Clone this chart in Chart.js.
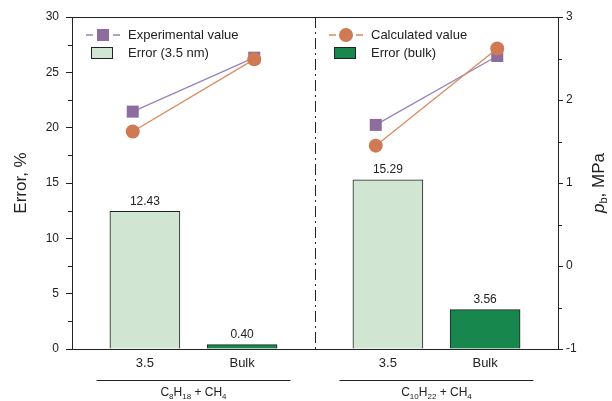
<!DOCTYPE html>
<html>
<head>
<meta charset="utf-8">
<script src="https://cdn.jsdelivr.net/npm/chart.js@4.4.1/dist/chart.umd.min.js"></script>
<style>
  html, body { margin: 0; padding: 0; background: #fff; }
  #wrap { width: 612px; height: 401px; }
</style>
</head>
<body>
<div id="wrap"><canvas id="c"></canvas></div>
<script>
// Pore size categories, two per hydrocarbon system
const categories = ['3.5', 'Bulk', '3.5', 'Bulk'];
const systems = ['C8H18 + CH4', 'C10H22 + CH4'];

// Relative error of the bubble-point prediction, %
const error35 = [12.43, 15.29];
const errorBulk = [0.40, 3.56];

// Bubble-point pressure p_b, MPa (3.5 nm, bulk, 3.5 nm, bulk)
const experimental = [1.86, 2.51, 1.70, 2.53];
const calculated = [1.62, 2.49, 1.45, 2.62];

// Axis tick labels
const errorTicks = [0, 5, 10, 15, 20, 25, 30];
const pressureTicks = [-1, 0, 1, 2, 3];

const FONT = "'Liberation Sans', Arial, Helvetica, sans-serif";
const INK = '#222';
const C_PURPLE = '#8c6d9e', C_PURPLE_LINE = '#9a82b8';
const C_ORANGE = '#cf7a52', C_ORANGE_LINE = '#d98a5e';
const C_LIGHT = '#d1e5d3', C_DARK = '#17874e';

Chart.defaults.font.family = FONT;
Chart.defaults.color = INK;

// Category i sits in group floor(i/2); each group spans 5 units on the x scale
const slot = i => Math.floor(i / 2) * 5 + 1.5 + (i % 2) * 2;
const markX = i => slot(i) + (i % 2 ? 0.25 : -0.25);

function drawFormula(ctx, text, cx, cy, size) {
  // digits following a letter are written as subscripts
  const parts = [];
  const re = /([A-Za-z])(\d+)/g;
  let last = 0, m;
  while ((m = re.exec(text))) {
    parts.push({ t: text.slice(last, m.index + 1), sub: false });
    parts.push({ t: m[2], sub: true });
    last = m.index + m[0].length;
  }
  if (last < text.length) parts.push({ t: text.slice(last), sub: false });
  const big = size + 'px ' + FONT, small = Math.round(size * 0.65) + 'px ' + FONT;
  let w = 0;
  parts.forEach(p => { ctx.font = p.sub ? small : big; p.w = ctx.measureText(p.t).width; w += p.w; });
  let x = cx - w / 2;
  ctx.textAlign = 'left';
  ctx.textBaseline = 'alphabetic';
  parts.forEach(p => {
    ctx.font = p.sub ? small : big;
    ctx.fillText(p.t, x, cy + (p.sub ? 3 : 0));
    x += p.w;
  });
}

const decor = {
  id: 'decor',
  beforeDatasetsDraw(chart) {
    const { ctx, chartArea: a, scales } = chart;
    const xd = scales.x.getPixelForValue(5);
    ctx.save();
    ctx.strokeStyle = INK;
    ctx.lineWidth = 1;
    ctx.setLineDash([11, 4, 2, 4]);
    ctx.beginPath();
    ctx.moveTo(Math.round(xd) + 0.5, a.top);
    ctx.lineTo(Math.round(xd) + 0.5, a.bottom);
    ctx.stroke();
    ctx.restore();
  },
  afterDraw(chart) {
    const { ctx, chartArea: a, scales } = chart;
    ctx.save();
    ctx.strokeStyle = INK;
    ctx.fillStyle = INK;
    ctx.lineWidth = 1;

    // top frame
    ctx.beginPath();
    ctx.moveTo(a.left, a.top + 0.5);
    ctx.lineTo(a.right, a.top + 0.5);
    ctx.stroke();

    // minor ticks
    for (let i = 0; i < errorTicks.length - 1; i++) {
      const y = Math.round(scales.y.getPixelForValue((errorTicks[i] + errorTicks[i + 1]) / 2)) + 0.5;
      ctx.beginPath(); ctx.moveTo(a.left - 4, y); ctx.lineTo(a.left, y); ctx.stroke();
    }
    for (let i = 0; i < pressureTicks.length - 1; i++) {
      const y = Math.round(scales.y1.getPixelForValue((pressureTicks[i] + pressureTicks[i + 1]) / 2)) + 0.5;
      ctx.beginPath(); ctx.moveTo(a.right, y); ctx.lineTo(a.right + 4, y); ctx.stroke();
    }

    // bar value labels
    ctx.font = '12px ' + FONT;
    ctx.textAlign = 'center';
    ctx.textBaseline = 'bottom';
    chart.data.datasets.forEach((ds, di) => {
      if (ds.type !== 'bar') return;
      chart.getDatasetMeta(di).data.forEach((el, j) => {
        ctx.fillText(ds.data[j].y.toFixed(2), el.x, el.y - 4);
      });
    });

    // legends
    const xd = scales.x.getPixelForValue(5);
    const r1 = a.top + 18, r2 = a.top + 36;
    const legend = (x0, line, mark, markColor, label1, fill, label2) => {
      ctx.strokeStyle = line;
      ctx.lineWidth = 1.3;
      ctx.beginPath();
      ctx.moveTo(x0, r1); ctx.lineTo(x0 + 7, r1);
      ctx.moveTo(x0 + 27, r1); ctx.lineTo(x0 + 34, r1);
      ctx.stroke();
      ctx.fillStyle = markColor;
      if (mark === 'rect') ctx.fillRect(x0 + 11, r1 - 6, 12, 12);
      else { ctx.beginPath(); ctx.arc(x0 + 17, r1, 7, 0, Math.PI * 2); ctx.fill(); }
      ctx.fillStyle = fill;
      ctx.fillRect(x0 + 5, r2 - 6, 22, 12);
      ctx.strokeStyle = INK;
      ctx.lineWidth = 1;
      ctx.strokeRect(x0 + 5.5, r2 - 5.5, 21, 11);
      ctx.fillStyle = INK;
      ctx.font = '13px ' + FONT;
      ctx.textAlign = 'left';
      ctx.textBaseline = 'middle';
      ctx.fillText(label1, x0 + 42, r1);
      ctx.fillText(label2, x0 + 42, r2);
    };
    legend(a.left + 14, C_PURPLE_LINE, 'rect', C_PURPLE, 'Experimental value', C_LIGHT, 'Error (3.5 nm)');
    legend(xd + 14, C_ORANGE_LINE, 'circle', C_ORANGE, 'Calculated value', C_DARK, 'Error (bulk)');

    // system labels with underlines
    ctx.fillStyle = INK;
    ctx.strokeStyle = INK;
    ctx.lineWidth = 1;
    systems.forEach((s, g) => {
      const cx = (scales.x.getPixelForValue(slot(2 * g)) + scales.x.getPixelForValue(slot(2 * g + 1))) / 2;
      ctx.beginPath();
      ctx.moveTo(cx - 97, 380.5);
      ctx.lineTo(cx + 97, 380.5);
      ctx.stroke();
      drawFormula(ctx, s, cx, 396, 12);
    });

    // axis titles
    const cy = (a.top + a.bottom) / 2;
    ctx.save();
    ctx.translate(21, cy);
    ctx.rotate(-Math.PI / 2);
    ctx.font = '17px ' + FONT;
    ctx.textAlign = 'center';
    ctx.textBaseline = 'middle';
    ctx.fillText('Error, %', 0, 0);
    ctx.restore();

    ctx.save();
    ctx.translate(599, cy);
    ctx.rotate(-Math.PI / 2);
    const fp = 'italic 17px ' + FONT, fb = '11px ' + FONT, fr = '17px ' + FONT;
    ctx.font = fp; const wp = ctx.measureText('p').width;
    ctx.font = fb; const wb = ctx.measureText('b').width;
    ctx.font = fr; const wr = ctx.measureText(', MPa').width;
    let x = -(wp + wb + wr) / 2;
    ctx.textAlign = 'left';
    ctx.textBaseline = 'middle';
    ctx.font = fp; ctx.fillText('p', x, 0); x += wp;
    ctx.font = fb; ctx.fillText('b', x, 5); x += wb;
    ctx.font = fr; ctx.fillText(', MPa', x, 0);
    ctx.restore();

    ctx.restore();
  }
};

const lineSet = (label, values, lineColor, markColor, style, radius, order) => ({
  type: 'line',
  label,
  yAxisID: 'y1',
  order,
  data: values.map((v, i) => ({ x: markX(i), y: v })),
  borderColor: lineColor,
  borderWidth: 1.3,
  tension: 0,
  fill: false,
  pointStyle: style,
  pointRadius: radius,
  pointHoverRadius: radius,
  pointBackgroundColor: markColor,
  pointBorderWidth: 0,
  segment: { borderColor: c => (c.p0DataIndex % 2 === 1 ? 'rgba(0,0,0,0)' : lineColor) }
});

const barSet = (label, values, fill, offset, order) => ({
  type: 'bar',
  label,
  order,
  grouped: false,
  data: values.map((v, g) => ({ x: slot(2 * g + offset), y: v })),
  backgroundColor: fill,
  borderColor: INK,
  borderWidth: 1,
  barThickness: 70
});

new Chart(document.getElementById('c'), {
  type: 'bar',
  data: {
    datasets: [
      lineSet('Calculated value', calculated, C_ORANGE_LINE, C_ORANGE, 'circle', 7, 0),
      lineSet('Experimental value', experimental, C_PURPLE_LINE, C_PURPLE, 'rect', 8.5, 1),
      barSet('Error (3.5 nm)', error35, C_LIGHT, 0, 2),
      barSet('Error (bulk)', errorBulk, C_DARK, 1, 3)
    ]
  },
  options: {
    responsive: true,
    maintainAspectRatio: false,
    devicePixelRatio: 1,
    animation: false,
    events: [],
    layout: { padding: { top: 17, left: 0, right: 0, bottom: 0 } },
    plugins: { legend: { display: false }, tooltip: { enabled: false } },
    scales: {
      x: {
        type: 'linear',
        min: 0,
        max: 10,
        offset: false,
        grid: { display: false, drawTicks: false },
        border: { display: true, color: INK, width: 1 },
        afterBuildTicks: s => { s.ticks = categories.map((c, i) => ({ value: slot(i) })); },
        ticks: {
          autoSkip: false,
          maxRotation: 0,
          padding: 7,
          color: INK,
          font: { size: 13 },
          callback: (v, i) => categories[i]
        },
        afterFit: s => { s.height = 52; }
      },
      y: {
        position: 'left',
        min: 0,
        max: 30,
        afterBuildTicks: s => { s.ticks = errorTicks.map(v => ({ value: v })); },
        grid: { drawOnChartArea: false, tickLength: 6, color: INK },
        border: { color: INK, width: 1 },
        ticks: { padding: 7, color: INK, font: { size: 12 } },
        afterFit: s => { s.width = 72; }
      },
      y1: {
        position: 'right',
        min: -1,
        max: 3,
        afterBuildTicks: s => { s.ticks = pressureTicks.map(v => ({ value: v })); },
        grid: { drawOnChartArea: false, tickLength: 5, color: INK },
        border: { color: INK, width: 1 },
        ticks: { padding: 3, color: INK, font: { size: 12 } },
        afterFit: s => { s.width = 54; }
      }
    }
  },
  plugins: [decor]
});
</script>
</body>
</html>
